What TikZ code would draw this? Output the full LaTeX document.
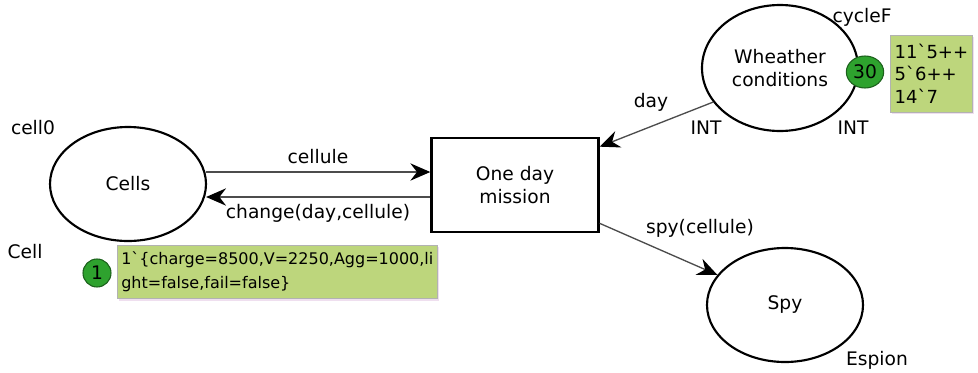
\documentclass[tikz,border=0pt]{standalone}
\usepackage{fontspec}
\setmainfont{DejaVu Sans}
\usepackage{xcolor}
\usetikzlibrary{shapes.geometric, arrows.meta, positioning, calc, shadows}

\definecolor{markfill}{HTML}{BDD67C}
\definecolor{tokfill}{HTML}{2EA22E}

\begin{document}
\begin{tikzpicture}[
    x=0.75pt, y=-0.75pt,
    place/.style={draw, ellipse, line width=1.6pt, minimum width=117pt, minimum height=85.5pt, align=center, font=\fontsize{14}{17}\selectfont},
    trans/.style={draw, line width=2pt, minimum width=125pt, minimum height=70.5pt, align=center, font=\fontsize{14}{17}\selectfont},
    arc/.style={line width=1pt, black!70, -{Stealth[length=15pt, width=13pt, inset=5pt, black]}},
    lbl/.style={font=\fontsize{14}{16}\selectfont, inner sep=1pt},
    marking/.style={fill=markfill, draw=black!30, drop shadow={shadow xshift=1.5pt, shadow yshift=-1.5pt, fill=violet!25}, align=left, inner sep=3pt, anchor=north west},
    token/.style={fill=tokfill, draw=tokfill!60!black, line width=0.8pt, inner sep=0pt, font=\fontsize{14}{16}\selectfont}
]
\useasboundingbox (0,0) rectangle (978,372);

% places and transition
\node[place] (cells) at (128,184) {Cells};
\node[trans] (mission) at (515,185) {One day\\mission};
\node[place, minimum height=94.5pt] (weather) at (780,68) {Wheather\\conditions};
\node[place] (spy) at (785,305) {Spy};

% arcs
\draw[arc] ($(cells.east)+(-1,-12)$) -- ($(mission.west)+(0,-13)$);
\draw[arc] ($(mission.west)+(0,12)$) -- ($(cells.east)+(-1,13)$);
\draw[arc] (weather.207) -- ($(mission.north east)+(0,10)$);
\draw[arc] ($(mission.south east)+(0,-10)$) -- (spy.156);

% arc inscriptions
\node[lbl] (lbl-cellule) at (318,157) {cellule};
\node[lbl] (lbl-change) at (318,213) {change(day,cellule)};
\node[lbl] (lbl-day) at (651,102) {day};
\node[lbl] (lbl-spy) at (700,228) {spy(cellule)};

% colour sets and initial markings
\node[lbl] (lbl-cell0) at (33,128) {cell0};
\node[lbl] (lbl-cellset) at (25,252) {Cell};
\node[lbl] (lbl-int1) at (706,128) {INT};
\node[lbl] (lbl-int2) at (853,128) {INT};
\node[lbl] (lbl-cyclef) at (862,17) {cycleF};
\node[lbl] (lbl-espion) at (877,360) {Espion};

% current markings
\node[marking, minimum width=240pt, minimum height=40pt, text width=234pt, font=\fontsize{12}{18}\selectfont] (mark-cells) at (117,245)
    {1\textasciigrave\{charge=8500,V=2250,Agg=1000,li\\ght=false,fail=false\}};
\node[token, circle, minimum size=21pt] (tok-cells) at (97,273) {1};

\node[marking, minimum width=61.5pt, minimum height=57.75pt, text width=55pt, font=\fontsize{13.5}{17}\selectfont] (mark-weather) at (890,35)
    {11\textasciigrave 5++\\5\textasciigrave 6++\\14\textasciigrave 7};
\node[token, ellipse, minimum width=28pt, minimum height=24pt] (tok-weather) at (865,72) {30};

\end{tikzpicture}
\end{document}
